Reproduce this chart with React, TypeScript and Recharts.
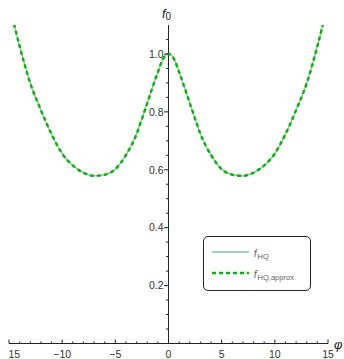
import { LineChart, Line, XAxis, YAxis, ReferenceLine, Legend } from 'recharts'

// values (curve is symmetric around phi = 0)
const phi = [
  -15, -14, -13, -12, -11, -10, -9, -8, -7, -6, -5, -4, -3, -2.5, -2, -1.5, -1, -0.5,
  0, 0.5, 1, 1.5, 2, 2.5, 3, 4, 5, 6, 7, 8, 9, 10, 11, 12, 13, 14, 15,
]
const fHQ = [
  1.175, 1.027, 0.899, 0.806, 0.723, 0.656, 0.615, 0.59, 0.579, 0.583, 0.602, 0.651, 0.724, 0.776, 0.83, 0.885, 0.937, 0.984,
  1.0, 0.984, 0.937, 0.885, 0.83, 0.776, 0.724, 0.651, 0.602, 0.583, 0.579, 0.59, 0.615, 0.656, 0.723, 0.806, 0.899, 1.027, 1.175,
]
const fApprox = [
  1.175, 1.027, 0.899, 0.806, 0.723, 0.656, 0.615, 0.59, 0.579, 0.583, 0.602, 0.651, 0.724, 0.776, 0.83, 0.885, 0.937, 0.984,
  1.0, 0.984, 0.937, 0.885, 0.83, 0.776, 0.724, 0.651, 0.602, 0.583, 0.579, 0.59, 0.615, 0.656, 0.723, 0.806, 0.899, 1.027, 1.175,
]

const xTicks = [
  -15, -14, -13, -12, -11, -10, -9, -8, -7, -6, -5, -4, -3, -2, -1, 0,
  1, 2, 3, 4, 5, 6, 7, 8, 9, 10, 11, 12, 13, 14, 15,
]
const yTicks = [
  0.05, 0.1, 0.15, 0.2, 0.25, 0.3, 0.35, 0.4, 0.45, 0.5, 0.55, 0.6, 0.65, 0.7, 0.75, 0.8, 0.85, 0.9, 0.95, 1.0, 1.05,
]

const seriesNames = ['HQ', 'HQ,approx']

const data = phi.map((p, i) => ({ phi: p, fHQ: fHQ[i], fApprox: fApprox[i] }))

const W = 338
const H = 359
const MARGIN = { top: 25, right: 16, bottom: 14.5, left: 2 }
const X_AXIS_H = 1
const Y_AXIS_W = 1
// x position of phi = 0 (the vertical axis sits in the middle)
const PLOT_L = MARGIN.left + Y_AXIS_W
const CX = PLOT_L + (W - PLOT_L - MARGIN.right) / 2

const FONT = '"Liberation Sans", Arial, sans-serif'
const AXIS = '#222'
const SOLID = '#80bf9c'
const DASHED = '#0cb20c'

function fmt(v: number) {
  return v < 0 ? `\u2212${Math.abs(v)}` : `${v}`
}

function XTick(props: any) {
  const { x, y, payload, index } = props
  const v = payload.value
  const major = v % 5 === 0
  // the leftmost label sits at the very edge; the reference only shows its digits
  const first = index === 0
  return (
    <g>
      <line x1={x} x2={x} y1={y} y2={y - (major ? 4 : 2)} stroke={AXIS} strokeWidth={1} />
      {major && (
        <text
          x={first ? x - 0.5 : x}
          y={y + 14}
          textAnchor={first ? 'start' : 'middle'}
          fontFamily={FONT}
          fontSize={10.5}
          fill="#333"
        >
          {first ? `${Math.abs(v)}` : fmt(v)}
        </text>
      )}
    </g>
  )
}

function YTick(props: any) {
  const { y, payload } = props
  const v = payload.value
  const major = Math.abs(v * 5 - Math.round(v * 5)) < 1e-6
  return (
    <g>
      <line x1={CX - (major ? 4.5 : 2.5)} x2={CX} y1={y} y2={y} stroke={AXIS} strokeWidth={1} />
      {major && (
        <text x={CX - 5} y={y + 3.8} textAnchor="end" fontFamily={FONT} fontSize={10.5} fill="#333">
          {v.toFixed(1)}
        </text>
      )}
    </g>
  )
}

function AxisTitle(props: any) {
  const { viewBox } = props
  return (
    <text x={viewBox.x - 2} y={viewBox.y - 7} textAnchor="middle" fontFamily={FONT} fill="#222">
      <tspan fontStyle="italic" fontSize={13}>f</tspan>
      <tspan fontSize={10} dy={2}>0</tspan>
    </text>
  )
}

function LegendBox(props: any) {
  const items = props.payload || []
  return (
    <div
      style={{
        width: 108,
        height: 55,
        boxSizing: 'border-box',
        border: `1px solid ${AXIS}`,
        borderRadius: 5,
        background: '#fff',
        position: 'relative',
        fontFamily: FONT,
      }}
    >
      {items.map((e: any, i: number) => (
        <div key={i} style={{ position: 'absolute', left: 0, top: i === 0 ? 8 : 28.5, height: 14, width: 106 }}>
          <svg width={40} height={14} style={{ position: 'absolute', left: 8 }}>
            <line
              x1={0}
              x2={37}
              y1={7}
              y2={7}
              stroke={e.color}
              strokeWidth={i === 0 ? 1.5 : 2.5}
              strokeDasharray={i === 0 ? undefined : '4 3'}
            />
          </svg>
          <span style={{ position: 'absolute', left: 50, top: 0, color: '#666', whiteSpace: 'nowrap', lineHeight: '14px' }}>
            <i style={{ fontSize: 10.5 }}>f</i>
            <span style={{ fontSize: 7.5, position: 'relative', top: 2, marginLeft: 1 }}>{seriesNames[i]}</span>
          </span>
        </div>
      ))}
    </div>
  )
}

export default function App() {
  return (
    <div style={{ position: 'absolute', left: 6, top: 0, width: W, height: H, overflow: 'hidden', background: '#fff' }}>
      <LineChart width={W} height={H} data={data} margin={MARGIN}>
        <XAxis
          dataKey="phi"
          type="number"
          domain={[-15, 15]}
          ticks={xTicks}
          interval={0}
          height={X_AXIS_H}
          tickSize={0}
          tickMargin={0}
          tickLine={false}
          axisLine={{ stroke: AXIS, strokeWidth: 1 }}
          tick={XTick}
          label={{
            value: '\u03c6',
            position: 'right',
            offset: 6,
            fontFamily: FONT,
            fontStyle: 'italic',
            fontSize: 13,
            fill: '#222',
          }}
        />
        <YAxis
          type="number"
          domain={[0, 1.1]}
          allowDataOverflow
          ticks={yTicks}
          interval={0}
          width={Y_AXIS_W}
          tickSize={0}
          tickMargin={0}
          tickLine={false}
          axisLine={false}
          tick={YTick}
        />
        <ReferenceLine x={0} stroke={AXIS} strokeWidth={1} label={AxisTitle} />
        <Line
          dataKey="fHQ"
          name={seriesNames[0]}
          type="monotone"
          stroke={SOLID}
          strokeWidth={1.2}
          dot={false}
          isAnimationActive={false}
        />
        <Line
          dataKey="fApprox"
          name={seriesNames[1]}
          type="monotone"
          stroke={DASHED}
          strokeWidth={2.5}
          strokeDasharray="4 3"
          dot={false}
          isAnimationActive={false}
        />
        <Legend
          layout="vertical"
          align="center"
          verticalAlign="middle"
          content={LegendBox}
          wrapperStyle={{ position: 'absolute', left: 196.7, top: 236, width: 108, height: 55 }}
        />
      </LineChart>
    </div>
  )
}
